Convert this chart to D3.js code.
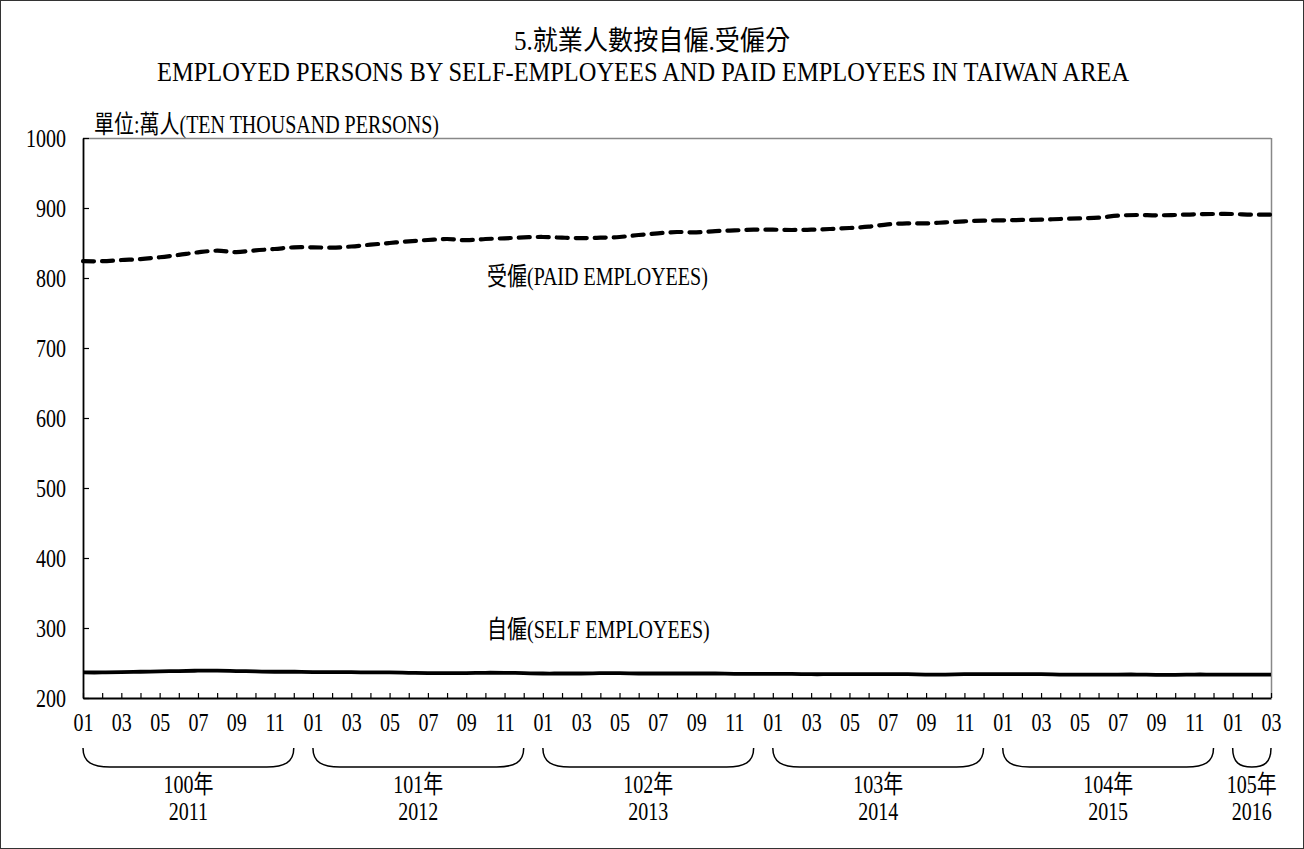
<!DOCTYPE html>
<html><head><meta charset="utf-8">
<script src="https://cdn.jsdelivr.net/npm/d3@7"></script>
<style>
html,body{margin:0;padding:0;background:#fff;}
svg{display:block;}
</style></head>
<body>
<svg id="chart" width="1304" height="849"></svg>
<script>
const titleLine1 = "5.就業人數按自僱.受僱分";
const titleLine2 = "EMPLOYED PERSONS BY SELF-EMPLOYEES AND PAID EMPLOYEES IN TAIWAN AREA";
const unitLabel = "單位:萬人(TEN THOUSAND PERSONS)";
const paidLabel = "受僱(PAID EMPLOYEES)";
const selfLabel = "自僱(SELF EMPLOYEES)";

const yearsROC = ["100年","101年","102年","103年","104年","105年"];
const yearsAD = ["2011","2012","2013","2014","2015","2016"];
const monthsPerYear = [12,12,12,12,12,3];
const monthLabels = ["01","02","03","04","05","06","07","08","09","10","11","12"];
const yTicks = [200,300,400,500,600,700,800,900,1000];

const paidEmployees = [
  824, 824, 825.7, 827, 829.6, 833, 836.7, 839, 837, 839.5, 841.4, 843.8,
  843.8, 843.3, 845, 847.6, 850, 852.4, 854.3, 855.7, 854, 855.7, 856.7, 858,
  858.6, 857.6, 857, 857.6, 858.6, 861.4, 863.8, 865.7, 865.2, 867, 868, 869,
  869, 868.6, 869, 870, 871.4, 873.3, 876.7, 878, 878, 879.5, 881, 881.9,
  882.4, 882.9, 883.3, 884.3, 885.2, 886.2, 889, 890, 889.5, 890, 891, 891.4,
  891.4, 890.5, 890.5
];
const selfEmployees = [
  236.5, 236.5, 237, 237.5, 238, 238.5, 239, 239, 238.5, 238, 237.5, 237.5,
  237, 237, 237, 236.5, 236.5, 236, 235.5, 235.5, 235.5, 236, 236, 235.5,
  235, 235, 235, 235.5, 235.5, 235, 235, 235, 235, 235, 234.5, 234.5,
  234.5, 234.5, 234, 234, 234, 234, 234, 234, 233.5, 233.5, 234, 234,
  234, 234, 234, 233.5, 233.5, 233.5, 233.5, 233.5, 233, 233, 233.5, 233.5,
  233.5, 233.5, 233.5
];

// build categories
const categories = [];
const groups = [];
yearsAD.forEach((yr, gi) => {
  const keys = [];
  for (let m = 0; m < monthsPerYear[gi]; m++) {
    const k = yr + "-" + monthLabels[m];
    categories.push(k); keys.push(k);
  }
  groups.push({roc: yearsROC[gi], ad: yr, first: keys[0], last: keys[keys.length-1]});
});
const paidData = categories.map((c,i)=>({c, v: paidEmployees[i]}));
const selfData = categories.map((c,i)=>({c, v: selfEmployees[i]}));

const FONT = "'Liberation Serif','Times New Roman','Noto Sans CJK TC',serif";
const svg = d3.select("#chart");
const W = 1304, H = 849;
const L = 83, R = 1271, T = 138, B = 698;
const SX = 0.8, FS = 25;

function txt(px, py, str, size, sx, anchor) {
  return svg.append("text")
    .attr("transform", `translate(${px},${py}) scale(${sx},1)`)
    .attr("text-anchor", anchor || "start")
    .attr("font-family", FONT).attr("font-size", size).attr("fill", "#000")
    .text(str);
}

svg.append("rect").attr("x",0).attr("y",0).attr("width",W).attr("height",H).attr("fill","#fff");
svg.append("rect").attr("x",0.5).attr("y",0.5).attr("width",W-1).attr("height",H-1)
  .attr("fill","none").attr("stroke","#333").attr("stroke-width",1);

const x = d3.scalePoint().domain(categories).range([L, R]);
const y = d3.scaleLinear().domain([200, 1000]).range([B, T]);

// titles
txt(652, 50, titleLine1, 27, 0.93, "middle");
txt(643, 81, titleLine2, 27, 0.905, "middle");
txt(94, 133, unitLabel, FS, SX, "start");

// frame top/right
svg.append("line").attr("x1",L).attr("x2",R).attr("y1",T+0.5).attr("y2",T+0.5).attr("stroke","#888").attr("stroke-width",1.5);
svg.append("line").attr("x1",R+0.5).attr("x2",R+0.5).attr("y1",T).attr("y2",B).attr("stroke","#888").attr("stroke-width",1.5);

// y axis
const yAxis = svg.append("g").attr("transform",`translate(${L},0)`)
  .call(d3.axisLeft(y).tickValues(yTicks).tickSizeInner(-6).tickSizeOuter(0).tickPadding(17/SX).tickFormat(d3.format("d")));
yAxis.select(".domain").attr("stroke","#000").attr("stroke-width",1.8);
yAxis.selectAll(".tick line").attr("stroke","#000").attr("stroke-width",1.2);
yAxis.selectAll("text").attr("font-family",FONT).attr("font-size",FS).attr("fill","#000")
  .attr("transform",`scale(${SX},1)`);

// x axis
const xAxis = svg.append("g").attr("transform",`translate(0,${B})`)
  .call(d3.axisBottom(x).tickSizeInner(-5).tickSizeOuter(0).tickPadding(15)
    .tickFormat((d,i)=> i%2===0 ? d.slice(5) : ""));
xAxis.select(".domain").attr("stroke","#000").attr("stroke-width",1.8);
xAxis.selectAll(".tick line").attr("stroke","#000").attr("stroke-width",1.2);
xAxis.selectAll("text").attr("font-family",FONT).attr("font-size",FS).attr("fill","#000")
  .attr("transform",`scale(${SX},1)`);

// lines
const line = d3.line().x(d=>x(d.c)).y(d=>y(d.v)).curve(d3.curveCatmullRom.alpha(0.5));
svg.append("path").datum(paidData).attr("d",line).attr("fill","none")
  .attr("stroke","#000").attr("stroke-width",4.2).attr("stroke-dasharray","11,8").attr("stroke-linecap","round");
svg.append("path").datum(selfData).attr("d",line).attr("fill","none")
  .attr("stroke","#000").attr("stroke-width",3.8);

// series labels
txt(487, 285, paidLabel, FS, SX, "start");
txt(487, 638, selfLabel, FS, SX, "start");

// braces and year labels
const bTop = 748, bBot = 767;
groups.forEach(g => {
  const x0 = x(g.first), x1 = x(g.last);
  const r = Math.min(27, (x1-x0)/2);
  const h = bBot - bTop;
  const p = d3.path();
  p.moveTo(x0, bTop);
  p.bezierCurveTo(x0, bTop + h*0.75, x0 + r*0.35, bBot, x0 + r, bBot);
  p.lineTo(x1 - r, bBot);
  p.bezierCurveTo(x1 - r*0.35, bBot, x1, bTop + h*0.75, x1, bTop);
  svg.append("path").attr("d",p.toString()).attr("fill","none").attr("stroke","#000").attr("stroke-width",1.5);
  const cx = (x0 + x1)/2;
  txt(cx, 793, g.roc, FS, SX, "middle");
  txt(cx, 820, g.ad, FS, SX, "middle");
});
</script>
</body></html>
